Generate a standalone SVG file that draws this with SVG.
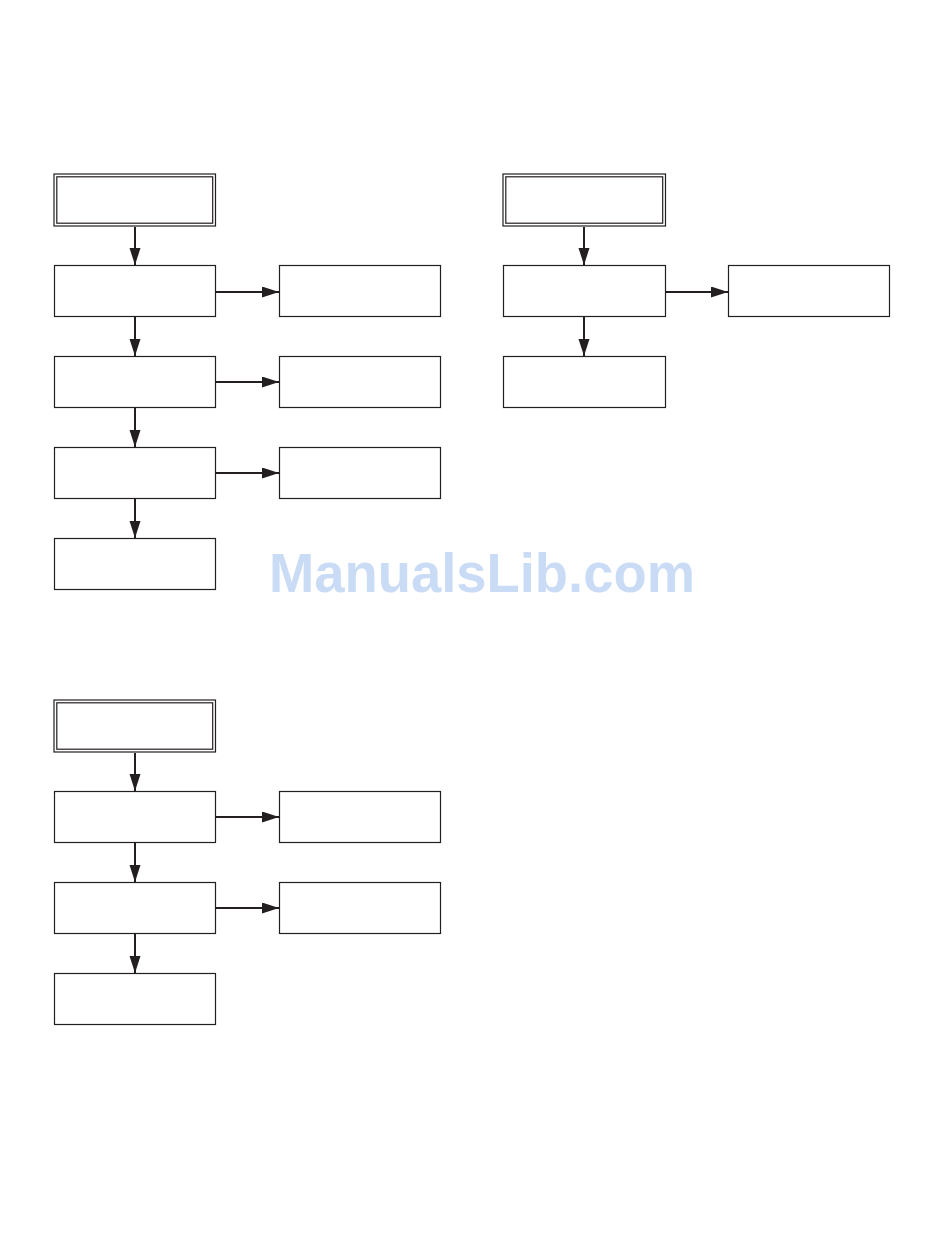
<svg xmlns="http://www.w3.org/2000/svg" width="950" height="1254" viewBox="0 0 950 1254">
<style>
.b{fill:#fff;stroke:#231f20;stroke-width:1.2}
.c{stroke:#231f20;stroke-width:2;fill:none}
.wm{font-family:"Liberation Sans",Arial,sans-serif;font-weight:bold;font-size:55px;fill:#cadcf5}
</style>
<defs>
<marker id="ah" markerUnits="userSpaceOnUse" markerWidth="18" markerHeight="12" refX="17" refY="5.5" orient="auto">
<path d="M0,0 L17,5.5 L0,11 Z" fill="#231f20"/>
</marker>
</defs>
<rect width="950" height="1254" fill="#fff"/>
<g id="connectors">
<line class="c" x1="135" y1="227" x2="135" y2="265" marker-end="url(#ah)"/>
<line class="c" x1="135" y1="317" x2="135" y2="356" marker-end="url(#ah)"/>
<line class="c" x1="135" y1="408" x2="135" y2="447" marker-end="url(#ah)"/>
<line class="c" x1="135" y1="499" x2="135" y2="538" marker-end="url(#ah)"/>
<line class="c" x1="216" y1="292" x2="279" y2="292" marker-end="url(#ah)"/>
<line class="c" x1="216" y1="382" x2="279" y2="382" marker-end="url(#ah)"/>
<line class="c" x1="216" y1="473" x2="279" y2="473" marker-end="url(#ah)"/>
<line class="c" x1="584" y1="227" x2="584" y2="265" marker-end="url(#ah)"/>
<line class="c" x1="584" y1="317" x2="584" y2="356" marker-end="url(#ah)"/>
<line class="c" x1="666" y1="292" x2="728" y2="292" marker-end="url(#ah)"/>
<line class="c" x1="135" y1="753" x2="135" y2="791" marker-end="url(#ah)"/>
<line class="c" x1="135" y1="843" x2="135" y2="882" marker-end="url(#ah)"/>
<line class="c" x1="135" y1="934" x2="135" y2="973" marker-end="url(#ah)"/>
<line class="c" x1="216" y1="817" x2="279" y2="817" marker-end="url(#ah)"/>
<line class="c" x1="216" y1="908" x2="279" y2="908" marker-end="url(#ah)"/>
</g>
<g id="a1"><rect class="b" x="54" y="174" width="161.5" height="52"/><rect class="b" x="56.8" y="176.8" width="155.9" height="46.4"/></g>
<g id="a2"><rect class="b" x="54.5" y="265.5" width="161" height="51"/></g>
<g id="a3"><rect class="b" x="54.5" y="356.5" width="161" height="51"/></g>
<g id="a4"><rect class="b" x="54.5" y="447.5" width="161" height="51"/></g>
<g id="a5"><rect class="b" x="54.5" y="538.5" width="161" height="51"/></g>
<g id="a6"><rect class="b" x="279.5" y="265.5" width="161" height="51"/></g>
<g id="a7"><rect class="b" x="279.5" y="356.5" width="161" height="51"/></g>
<g id="a8"><rect class="b" x="279.5" y="447.5" width="161" height="51"/></g>
<g id="b1"><rect class="b" x="503" y="174" width="162.5" height="52"/><rect class="b" x="505.8" y="176.8" width="156.9" height="46.4"/></g>
<g id="b2"><rect class="b" x="503.5" y="265.5" width="162" height="51"/></g>
<g id="b3"><rect class="b" x="503.5" y="356.5" width="162" height="51"/></g>
<g id="b4"><rect class="b" x="728.5" y="265.5" width="161" height="51"/></g>
<g id="c1"><rect class="b" x="54" y="700" width="161.5" height="52"/><rect class="b" x="56.8" y="702.8" width="155.9" height="46.4"/></g>
<g id="c2"><rect class="b" x="54.5" y="791.5" width="161" height="51"/></g>
<g id="c3"><rect class="b" x="54.5" y="882.5" width="161" height="51"/></g>
<g id="c4"><rect class="b" x="54.5" y="973.5" width="161" height="51"/></g>
<g id="c5"><rect class="b" x="279.5" y="791.5" width="161" height="51"/></g>
<g id="c6"><rect class="b" x="279.5" y="882.5" width="161" height="51"/></g>
<text class="wm" x="269" y="592" textLength="426" lengthAdjust="spacingAndGlyphs">ManualsLib.com</text>
</svg>
